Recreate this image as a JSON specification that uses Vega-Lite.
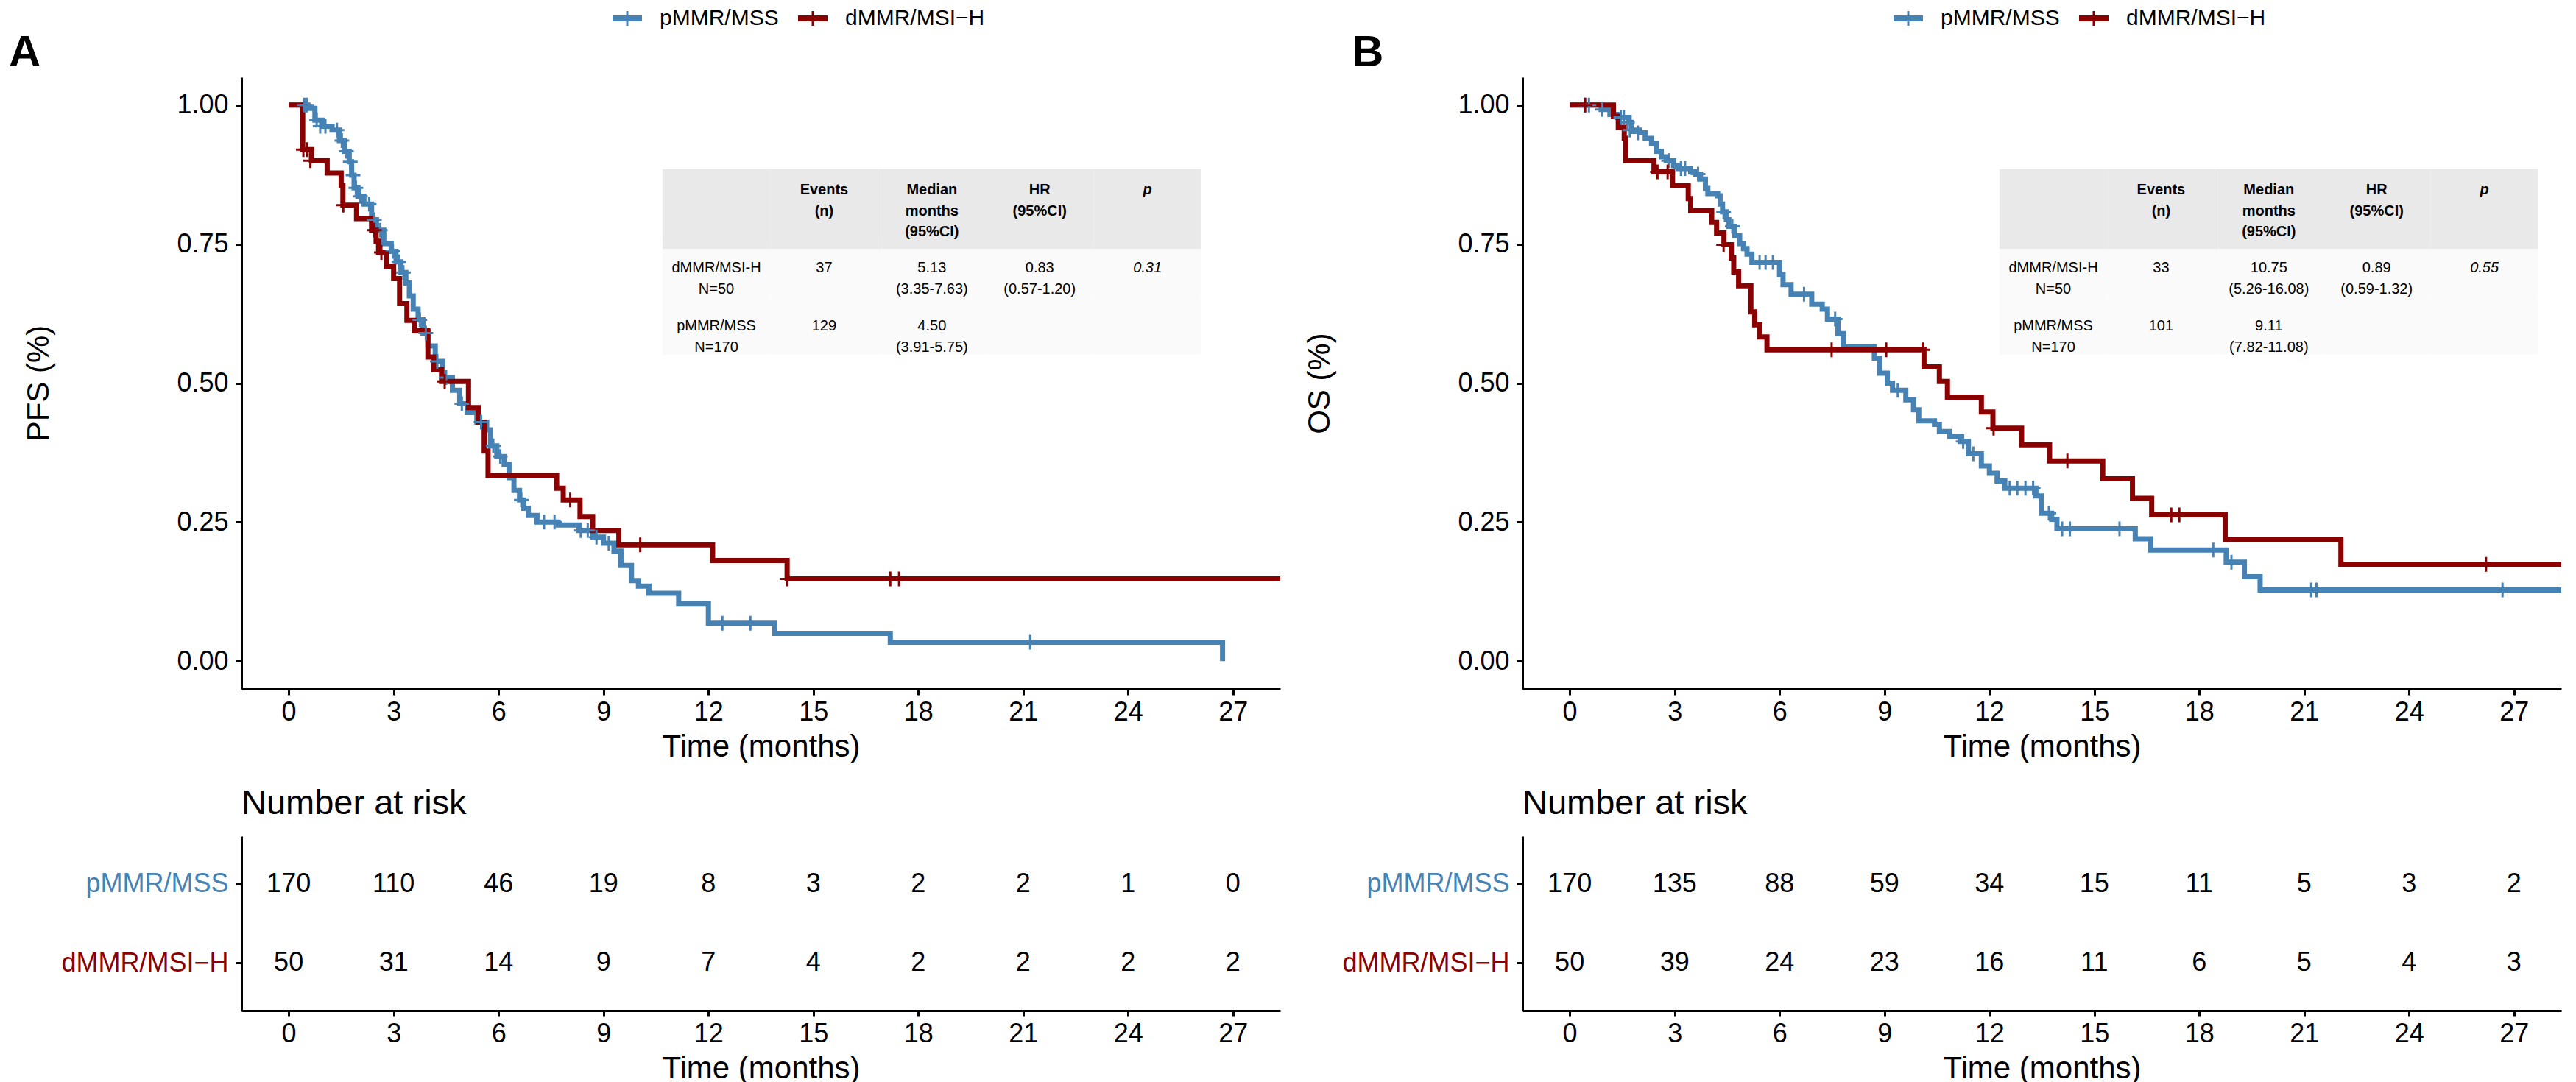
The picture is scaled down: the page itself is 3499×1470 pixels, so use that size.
{
  "$schema": "https://vega.github.io/schema/vega-lite/v6.json",
  "background": "white",
  "padding": {"left": 12, "top": 5, "right": 5, "bottom": 0},
  "config": {
    "font": "Liberation Sans",
    "view": {"stroke": null},
    "axis": {"grid": false, "domainColor": "black", "domainWidth": 3, "tickColor": "black", "tickWidth": 3, "tickSize": 8, "labelColor": "black", "labelFontSize": 36, "titleFontSize": 42, "titleFontWeight": "normal", "titleColor": "black", "labelFont": "Liberation Sans", "titleFont": "Liberation Sans", "labelOverlap": false, "labelFlush": false, "labelLimit": 1000},
    "legend": {"labelLimit": 1000},
    "title": {"font": "Liberation Sans", "color": "black"}
  },
  "datasets": {
    "km": [
      {"panel":"PFS","group":"pMMR/MSS","month":0,"surv":1},{"panel":"PFS","group":"pMMR/MSS","month":0.55,"surv":0.994},{"panel":"PFS","group":"pMMR/MSS","month":0.75,"surv":0.973},{"panel":"PFS","group":"pMMR/MSS","month":0.96,"surv":0.962},{"panel":"PFS","group":"pMMR/MSS","month":1.24,"surv":0.955},{"panel":"PFS","group":"pMMR/MSS","month":1.45,"surv":0.936},{"panel":"PFS","group":"pMMR/MSS","month":1.59,"surv":0.917},{"panel":"PFS","group":"pMMR/MSS","month":1.73,"surv":0.898},{"panel":"PFS","group":"pMMR/MSS","month":1.8,"surv":0.874},{"panel":"PFS","group":"pMMR/MSS","month":1.87,"surv":0.851},{"panel":"PFS","group":"pMMR/MSS","month":1.98,"surv":0.836},{"panel":"PFS","group":"pMMR/MSS","month":2.15,"surv":0.822},{"panel":"PFS","group":"pMMR/MSS","month":2.37,"surv":0.794},{"panel":"PFS","group":"pMMR/MSS","month":2.51,"surv":0.775},{"panel":"PFS","group":"pMMR/MSS","month":2.72,"surv":0.751},{"panel":"PFS","group":"pMMR/MSS","month":2.93,"surv":0.737},{"panel":"PFS","group":"pMMR/MSS","month":3.07,"surv":0.718},{"panel":"PFS","group":"pMMR/MSS","month":3.21,"surv":0.699},{"panel":"PFS","group":"pMMR/MSS","month":3.35,"surv":0.68},{"panel":"PFS","group":"pMMR/MSS","month":3.45,"surv":0.657},{"panel":"PFS","group":"pMMR/MSS","month":3.56,"surv":0.633},{"panel":"PFS","group":"pMMR/MSS","month":3.7,"surv":0.614},{"panel":"PFS","group":"pMMR/MSS","month":3.84,"surv":0.59},{"panel":"PFS","group":"pMMR/MSS","month":3.98,"surv":0.567},{"panel":"PFS","group":"pMMR/MSS","month":4.19,"surv":0.539},{"panel":"PFS","group":"pMMR/MSS","month":4.4,"surv":0.51},{"panel":"PFS","group":"pMMR/MSS","month":4.68,"surv":0.487},{"panel":"PFS","group":"pMMR/MSS","month":4.89,"surv":0.463},{"panel":"PFS","group":"pMMR/MSS","month":5.1,"surv":0.447},{"panel":"PFS","group":"pMMR/MSS","month":5.38,"surv":0.43},{"panel":"PFS","group":"pMMR/MSS","month":5.66,"surv":0.416},{"panel":"PFS","group":"pMMR/MSS","month":5.77,"surv":0.387},{"panel":"PFS","group":"pMMR/MSS","month":5.95,"surv":0.368},{"panel":"PFS","group":"pMMR/MSS","month":6.16,"surv":0.354},{"panel":"PFS","group":"pMMR/MSS","month":6.3,"surv":0.33},{"panel":"PFS","group":"pMMR/MSS","month":6.44,"surv":0.307},{"panel":"PFS","group":"pMMR/MSS","month":6.6,"surv":0.29},{"panel":"PFS","group":"pMMR/MSS","month":6.72,"surv":0.275},{"panel":"PFS","group":"pMMR/MSS","month":6.85,"surv":0.262},{"panel":"PFS","group":"pMMR/MSS","month":7.1,"surv":0.25},{"panel":"PFS","group":"pMMR/MSS","month":7.7,"surv":0.245},{"panel":"PFS","group":"pMMR/MSS","month":8.3,"surv":0.235},{"panel":"PFS","group":"pMMR/MSS","month":8.7,"surv":0.223},{"panel":"PFS","group":"pMMR/MSS","month":9.0,"surv":0.212},{"panel":"PFS","group":"pMMR/MSS","month":9.3,"surv":0.198},{"panel":"PFS","group":"pMMR/MSS","month":9.5,"surv":0.172},{"panel":"PFS","group":"pMMR/MSS","month":9.8,"surv":0.145},{"panel":"PFS","group":"pMMR/MSS","month":10.0,"surv":0.135},{"panel":"PFS","group":"pMMR/MSS","month":10.3,"surv":0.122},{"panel":"PFS","group":"pMMR/MSS","month":11.15,"surv":0.104},{"panel":"PFS","group":"pMMR/MSS","month":12.0,"surv":0.068},{"panel":"PFS","group":"pMMR/MSS","month":13.9,"surv":0.05},{"panel":"PFS","group":"pMMR/MSS","month":17.2,"surv":0.034},{"panel":"PFS","group":"pMMR/MSS","month":26.7,"surv":0},
      {"panel":"PFS","group":"dMMR/MSI−H","month":0,"surv":1},{"panel":"PFS","group":"dMMR/MSI−H","month":0.4,"surv":0.92},{"panel":"PFS","group":"dMMR/MSI−H","month":0.65,"surv":0.9},{"panel":"PFS","group":"dMMR/MSI−H","month":1.1,"surv":0.878},{"panel":"PFS","group":"dMMR/MSI−H","month":1.5,"surv":0.855},{"panel":"PFS","group":"dMMR/MSI−H","month":1.55,"surv":0.82},{"panel":"PFS","group":"dMMR/MSI−H","month":1.94,"surv":0.796},{"panel":"PFS","group":"dMMR/MSI−H","month":2.37,"surv":0.775},{"panel":"PFS","group":"dMMR/MSI−H","month":2.5,"surv":0.755},{"panel":"PFS","group":"dMMR/MSI−H","month":2.57,"surv":0.735},{"panel":"PFS","group":"dMMR/MSI−H","month":2.79,"surv":0.71},{"panel":"PFS","group":"dMMR/MSI−H","month":3.0,"surv":0.688},{"panel":"PFS","group":"dMMR/MSI−H","month":3.17,"surv":0.643},{"panel":"PFS","group":"dMMR/MSI−H","month":3.38,"surv":0.613},{"panel":"PFS","group":"dMMR/MSI−H","month":3.59,"surv":0.594},{"panel":"PFS","group":"dMMR/MSI−H","month":3.98,"surv":0.547},{"panel":"PFS","group":"dMMR/MSI−H","month":4.15,"surv":0.524},{"panel":"PFS","group":"dMMR/MSI−H","month":4.37,"surv":0.503},{"panel":"PFS","group":"dMMR/MSI−H","month":5.14,"surv":0.456},{"panel":"PFS","group":"dMMR/MSI−H","month":5.42,"surv":0.43},{"panel":"PFS","group":"dMMR/MSI−H","month":5.59,"surv":0.378},{"panel":"PFS","group":"dMMR/MSI−H","month":5.7,"surv":0.334},{"panel":"PFS","group":"dMMR/MSI−H","month":7.66,"surv":0.311},{"panel":"PFS","group":"dMMR/MSI−H","month":7.85,"surv":0.29},{"panel":"PFS","group":"dMMR/MSI−H","month":8.33,"surv":0.26},{"panel":"PFS","group":"dMMR/MSI−H","month":8.69,"surv":0.235},{"panel":"PFS","group":"dMMR/MSI−H","month":9.44,"surv":0.209},{"panel":"PFS","group":"dMMR/MSI−H","month":12.12,"surv":0.181},{"panel":"PFS","group":"dMMR/MSI−H","month":14.25,"surv":0.148},{"panel":"PFS","group":"dMMR/MSI−H","month":28.4,"surv":0.148},
      {"panel":"OS","group":"pMMR/MSS","month":0,"surv":1},{"panel":"OS","group":"pMMR/MSS","month":0.9,"surv":0.992},{"panel":"OS","group":"pMMR/MSS","month":1.15,"surv":0.983},{"panel":"OS","group":"pMMR/MSS","month":1.35,"surv":0.978},{"panel":"OS","group":"pMMR/MSS","month":1.7,"surv":0.969},{"panel":"OS","group":"pMMR/MSS","month":1.77,"surv":0.955},{"panel":"OS","group":"pMMR/MSS","month":1.99,"surv":0.95},{"panel":"OS","group":"pMMR/MSS","month":2.16,"surv":0.94},{"panel":"OS","group":"pMMR/MSS","month":2.34,"surv":0.931},{"panel":"OS","group":"pMMR/MSS","month":2.48,"surv":0.917},{"panel":"OS","group":"pMMR/MSS","month":2.62,"surv":0.907},{"panel":"OS","group":"pMMR/MSS","month":2.76,"surv":0.9},{"panel":"OS","group":"pMMR/MSS","month":2.97,"surv":0.891},{"panel":"OS","group":"pMMR/MSS","month":3.11,"surv":0.886},{"panel":"OS","group":"pMMR/MSS","month":3.46,"surv":0.88},{"panel":"OS","group":"pMMR/MSS","month":3.6,"surv":0.876},{"panel":"OS","group":"pMMR/MSS","month":3.74,"surv":0.867},{"panel":"OS","group":"pMMR/MSS","month":3.88,"surv":0.85},{"panel":"OS","group":"pMMR/MSS","month":3.95,"surv":0.841},{"panel":"OS","group":"pMMR/MSS","month":4.23,"surv":0.837},{"panel":"OS","group":"pMMR/MSS","month":4.3,"surv":0.822},{"panel":"OS","group":"pMMR/MSS","month":4.37,"surv":0.808},{"panel":"OS","group":"pMMR/MSS","month":4.48,"surv":0.794},{"panel":"OS","group":"pMMR/MSS","month":4.55,"surv":0.782},{"panel":"OS","group":"pMMR/MSS","month":4.72,"surv":0.765},{"panel":"OS","group":"pMMR/MSS","month":4.86,"surv":0.751},{"panel":"OS","group":"pMMR/MSS","month":4.97,"surv":0.742},{"panel":"OS","group":"pMMR/MSS","month":5.07,"surv":0.732},{"panel":"OS","group":"pMMR/MSS","month":5.21,"surv":0.717},{"panel":"OS","group":"pMMR/MSS","month":6.0,"surv":0.695},{"panel":"OS","group":"pMMR/MSS","month":6.1,"surv":0.677},{"panel":"OS","group":"pMMR/MSS","month":6.33,"surv":0.66},{"panel":"OS","group":"pMMR/MSS","month":6.92,"surv":0.642},{"panel":"OS","group":"pMMR/MSS","month":7.22,"surv":0.633},{"panel":"OS","group":"pMMR/MSS","month":7.37,"surv":0.615},{"panel":"OS","group":"pMMR/MSS","month":7.67,"surv":0.589},{"panel":"OS","group":"pMMR/MSS","month":7.82,"surv":0.565},{"panel":"OS","group":"pMMR/MSS","month":8.71,"surv":0.545},{"panel":"OS","group":"pMMR/MSS","month":8.86,"surv":0.518},{"panel":"OS","group":"pMMR/MSS","month":9.08,"surv":0.5},{"panel":"OS","group":"pMMR/MSS","month":9.23,"surv":0.487},{"panel":"OS","group":"pMMR/MSS","month":9.61,"surv":0.47},{"panel":"OS","group":"pMMR/MSS","month":9.83,"surv":0.452},{"panel":"OS","group":"pMMR/MSS","month":9.98,"surv":0.432},{"panel":"OS","group":"pMMR/MSS","month":10.43,"surv":0.426},{"panel":"OS","group":"pMMR/MSS","month":10.57,"surv":0.413},{"panel":"OS","group":"pMMR/MSS","month":10.87,"surv":0.404},{"panel":"OS","group":"pMMR/MSS","month":11.17,"surv":0.395},{"panel":"OS","group":"pMMR/MSS","month":11.4,"surv":0.373},{"panel":"OS","group":"pMMR/MSS","month":11.77,"surv":0.351},{"panel":"OS","group":"pMMR/MSS","month":12.0,"surv":0.338},{"panel":"OS","group":"pMMR/MSS","month":12.22,"surv":0.324},{"panel":"OS","group":"pMMR/MSS","month":12.44,"surv":0.311},{"panel":"OS","group":"pMMR/MSS","month":13.33,"surv":0.297},{"panel":"OS","group":"pMMR/MSS","month":13.48,"surv":0.266},{"panel":"OS","group":"pMMR/MSS","month":13.78,"surv":0.255},{"panel":"OS","group":"pMMR/MSS","month":13.93,"surv":0.238},{"panel":"OS","group":"pMMR/MSS","month":16.17,"surv":0.22},{"panel":"OS","group":"pMMR/MSS","month":16.61,"surv":0.2},{"panel":"OS","group":"pMMR/MSS","month":18.77,"surv":0.178},{"panel":"OS","group":"pMMR/MSS","month":19.29,"surv":0.152},{"panel":"OS","group":"pMMR/MSS","month":19.74,"surv":0.128},{"panel":"OS","group":"pMMR/MSS","month":28.4,"surv":0.128},
      {"panel":"OS","group":"dMMR/MSI−H","month":0,"surv":1},{"panel":"OS","group":"dMMR/MSI−H","month":1.25,"surv":0.98},{"panel":"OS","group":"dMMR/MSI−H","month":1.39,"surv":0.96},{"panel":"OS","group":"dMMR/MSI−H","month":1.56,"surv":0.94},{"panel":"OS","group":"dMMR/MSI−H","month":1.6,"surv":0.9},{"panel":"OS","group":"dMMR/MSI−H","month":2.41,"surv":0.88},{"panel":"OS","group":"dMMR/MSI−H","month":2.94,"surv":0.855},{"panel":"OS","group":"dMMR/MSI−H","month":3.39,"surv":0.832},{"panel":"OS","group":"dMMR/MSI−H","month":3.46,"surv":0.81},{"panel":"OS","group":"dMMR/MSI−H","month":4.06,"surv":0.789},{"panel":"OS","group":"dMMR/MSI−H","month":4.2,"surv":0.77},{"panel":"OS","group":"dMMR/MSI−H","month":4.41,"surv":0.749},{"panel":"OS","group":"dMMR/MSI−H","month":4.62,"surv":0.725},{"panel":"OS","group":"dMMR/MSI−H","month":4.69,"surv":0.7},{"panel":"OS","group":"dMMR/MSI−H","month":4.83,"surv":0.675},{"panel":"OS","group":"dMMR/MSI−H","month":5.18,"surv":0.628},{"panel":"OS","group":"dMMR/MSI−H","month":5.29,"surv":0.605},{"panel":"OS","group":"dMMR/MSI−H","month":5.43,"surv":0.583},{"panel":"OS","group":"dMMR/MSI−H","month":5.64,"surv":0.56},{"panel":"OS","group":"dMMR/MSI−H","month":10.13,"surv":0.529},{"panel":"OS","group":"dMMR/MSI−H","month":10.57,"surv":0.503},{"panel":"OS","group":"dMMR/MSI−H","month":10.8,"surv":0.475},{"panel":"OS","group":"dMMR/MSI−H","month":11.77,"surv":0.448},{"panel":"OS","group":"dMMR/MSI−H","month":12.1,"surv":0.419},{"panel":"OS","group":"dMMR/MSI−H","month":12.92,"surv":0.389},{"panel":"OS","group":"dMMR/MSI−H","month":13.72,"surv":0.36},{"panel":"OS","group":"dMMR/MSI−H","month":15.24,"surv":0.328},{"panel":"OS","group":"dMMR/MSI−H","month":16.09,"surv":0.293},{"panel":"OS","group":"dMMR/MSI−H","month":16.64,"surv":0.263},{"panel":"OS","group":"dMMR/MSI−H","month":18.74,"surv":0.219},{"panel":"OS","group":"dMMR/MSI−H","month":22.05,"surv":0.174},{"panel":"OS","group":"dMMR/MSI−H","month":28.4,"surv":0.174}
    ],
    "censor": [
      {"panel":"PFS","group":"pMMR/MSS","month":0.45,"surv":1},{"panel":"PFS","group":"pMMR/MSS","month":0.52,"surv":1},{"panel":"PFS","group":"pMMR/MSS","month":0.8,"surv":0.973},{"panel":"PFS","group":"pMMR/MSS","month":0.9,"surv":0.962},{"panel":"PFS","group":"pMMR/MSS","month":1.05,"surv":0.962},{"panel":"PFS","group":"pMMR/MSS","month":1.38,"surv":0.955},{"panel":"PFS","group":"pMMR/MSS","month":1.52,"surv":0.936},{"panel":"PFS","group":"pMMR/MSS","month":1.65,"surv":0.917},{"panel":"PFS","group":"pMMR/MSS","month":1.76,"surv":0.898},{"panel":"PFS","group":"pMMR/MSS","month":1.84,"surv":0.874},{"panel":"PFS","group":"pMMR/MSS","month":1.92,"surv":0.851},{"panel":"PFS","group":"pMMR/MSS","month":2.05,"surv":0.836},{"panel":"PFS","group":"pMMR/MSS","month":2.3,"surv":0.822},{"panel":"PFS","group":"pMMR/MSS","month":2.45,"surv":0.794},{"panel":"PFS","group":"pMMR/MSS","month":2.62,"surv":0.775},{"panel":"PFS","group":"pMMR/MSS","month":2.98,"surv":0.737},{"panel":"PFS","group":"pMMR/MSS","month":3.15,"surv":0.718},{"panel":"PFS","group":"pMMR/MSS","month":3.28,"surv":0.699},{"panel":"PFS","group":"pMMR/MSS","month":3.75,"surv":0.614},{"panel":"PFS","group":"pMMR/MSS","month":3.92,"surv":0.59},{"panel":"PFS","group":"pMMR/MSS","month":4.25,"surv":0.539},{"panel":"PFS","group":"pMMR/MSS","month":4.5,"surv":0.51},{"panel":"PFS","group":"pMMR/MSS","month":4.95,"surv":0.463},{"panel":"PFS","group":"pMMR/MSS","month":5.5,"surv":0.43},{"panel":"PFS","group":"pMMR/MSS","month":5.85,"surv":0.387},{"panel":"PFS","group":"pMMR/MSS","month":6.05,"surv":0.368},{"panel":"PFS","group":"pMMR/MSS","month":6.65,"surv":0.29},{"panel":"PFS","group":"pMMR/MSS","month":7.3,"surv":0.25},{"panel":"PFS","group":"pMMR/MSS","month":7.6,"surv":0.25},{"panel":"PFS","group":"pMMR/MSS","month":8.35,"surv":0.235},{"panel":"PFS","group":"pMMR/MSS","month":8.55,"surv":0.235},{"panel":"PFS","group":"pMMR/MSS","month":8.8,"surv":0.223},{"panel":"PFS","group":"pMMR/MSS","month":9.15,"surv":0.212},{"panel":"PFS","group":"pMMR/MSS","month":12.4,"surv":0.068},{"panel":"PFS","group":"pMMR/MSS","month":13.2,"surv":0.068},{"panel":"PFS","group":"pMMR/MSS","month":21.2,"surv":0.034},
      {"panel":"PFS","group":"dMMR/MSI−H","month":0.42,"surv":0.92},{"panel":"PFS","group":"dMMR/MSI−H","month":0.52,"surv":0.92},{"panel":"PFS","group":"dMMR/MSI−H","month":0.62,"surv":0.9},{"panel":"PFS","group":"dMMR/MSI−H","month":1.56,"surv":0.82},{"panel":"PFS","group":"dMMR/MSI−H","month":2.45,"surv":0.775},{"panel":"PFS","group":"dMMR/MSI−H","month":2.65,"surv":0.735},{"panel":"PFS","group":"dMMR/MSI−H","month":4.46,"surv":0.503},{"panel":"PFS","group":"dMMR/MSI−H","month":8.05,"surv":0.29},{"panel":"PFS","group":"dMMR/MSI−H","month":10.05,"surv":0.209},{"panel":"PFS","group":"dMMR/MSI−H","month":14.25,"surv":0.148},{"panel":"PFS","group":"dMMR/MSI−H","month":17.2,"surv":0.148},{"panel":"PFS","group":"dMMR/MSI−H","month":17.45,"surv":0.148},
      {"panel":"OS","group":"pMMR/MSS","month":0.44,"surv":1},{"panel":"OS","group":"pMMR/MSS","month":0.55,"surv":1},{"panel":"OS","group":"pMMR/MSS","month":0.93,"surv":0.992},{"panel":"OS","group":"pMMR/MSS","month":1.46,"surv":0.978},{"panel":"OS","group":"pMMR/MSS","month":1.55,"surv":0.978},{"panel":"OS","group":"pMMR/MSS","month":1.65,"surv":0.969},{"panel":"OS","group":"pMMR/MSS","month":1.72,"surv":0.955},{"panel":"OS","group":"pMMR/MSS","month":1.95,"surv":0.95},{"panel":"OS","group":"pMMR/MSS","month":2.83,"surv":0.9},{"panel":"OS","group":"pMMR/MSS","month":3.18,"surv":0.886},{"panel":"OS","group":"pMMR/MSS","month":3.3,"surv":0.886},{"panel":"OS","group":"pMMR/MSS","month":3.67,"surv":0.876},{"panel":"OS","group":"pMMR/MSS","month":4.4,"surv":0.808},{"panel":"OS","group":"pMMR/MSS","month":4.65,"surv":0.782},{"panel":"OS","group":"pMMR/MSS","month":5.43,"surv":0.717},{"panel":"OS","group":"pMMR/MSS","month":5.6,"surv":0.717},{"panel":"OS","group":"pMMR/MSS","month":5.81,"surv":0.717},{"panel":"OS","group":"pMMR/MSS","month":6.7,"surv":0.66},{"panel":"OS","group":"pMMR/MSS","month":7.59,"surv":0.615},{"panel":"OS","group":"pMMR/MSS","month":9.38,"surv":0.487},{"panel":"OS","group":"pMMR/MSS","month":11.25,"surv":0.395},{"panel":"OS","group":"pMMR/MSS","month":11.54,"surv":0.373},{"panel":"OS","group":"pMMR/MSS","month":12.58,"surv":0.311},{"panel":"OS","group":"pMMR/MSS","month":12.8,"surv":0.311},{"panel":"OS","group":"pMMR/MSS","month":13.03,"surv":0.311},{"panel":"OS","group":"pMMR/MSS","month":13.25,"surv":0.311},{"panel":"OS","group":"pMMR/MSS","month":13.7,"surv":0.266},{"panel":"OS","group":"pMMR/MSS","month":14.08,"surv":0.238},{"panel":"OS","group":"pMMR/MSS","month":14.3,"surv":0.238},{"panel":"OS","group":"pMMR/MSS","month":15.72,"surv":0.238},{"panel":"OS","group":"pMMR/MSS","month":18.4,"surv":0.2},{"panel":"OS","group":"pMMR/MSS","month":18.92,"surv":0.178},{"panel":"OS","group":"pMMR/MSS","month":21.2,"surv":0.128},{"panel":"OS","group":"pMMR/MSS","month":21.35,"surv":0.128},{"panel":"OS","group":"pMMR/MSS","month":26.67,"surv":0.128},
      {"panel":"OS","group":"dMMR/MSI−H","month":0.44,"surv":1},{"panel":"OS","group":"dMMR/MSI−H","month":2.51,"surv":0.88},{"panel":"OS","group":"dMMR/MSI−H","month":2.8,"surv":0.88},{"panel":"OS","group":"dMMR/MSI−H","month":4.4,"surv":0.749},{"panel":"OS","group":"dMMR/MSI−H","month":7.49,"surv":0.56},{"panel":"OS","group":"dMMR/MSI−H","month":9.05,"surv":0.56},{"panel":"OS","group":"dMMR/MSI−H","month":10.09,"surv":0.56},{"panel":"OS","group":"dMMR/MSI−H","month":12.12,"surv":0.419},{"panel":"OS","group":"dMMR/MSI−H","month":14.23,"surv":0.36},{"panel":"OS","group":"dMMR/MSI−H","month":17.2,"surv":0.263},{"panel":"OS","group":"dMMR/MSI−H","month":17.43,"surv":0.263},{"panel":"OS","group":"dMMR/MSI−H","month":26.2,"surv":0.174}
    ],
    "risk": [
      {"panel":"PFS","group":"pMMR/MSS","month":0,"n":170},{"panel":"PFS","group":"pMMR/MSS","month":3,"n":110},{"panel":"PFS","group":"pMMR/MSS","month":6,"n":46},{"panel":"PFS","group":"pMMR/MSS","month":9,"n":19},{"panel":"PFS","group":"pMMR/MSS","month":12,"n":8},{"panel":"PFS","group":"pMMR/MSS","month":15,"n":3},{"panel":"PFS","group":"pMMR/MSS","month":18,"n":2},{"panel":"PFS","group":"pMMR/MSS","month":21,"n":2},{"panel":"PFS","group":"pMMR/MSS","month":24,"n":1},{"panel":"PFS","group":"pMMR/MSS","month":27,"n":0},
      {"panel":"PFS","group":"dMMR/MSI−H","month":0,"n":50},{"panel":"PFS","group":"dMMR/MSI−H","month":3,"n":31},{"panel":"PFS","group":"dMMR/MSI−H","month":6,"n":14},{"panel":"PFS","group":"dMMR/MSI−H","month":9,"n":9},{"panel":"PFS","group":"dMMR/MSI−H","month":12,"n":7},{"panel":"PFS","group":"dMMR/MSI−H","month":15,"n":4},{"panel":"PFS","group":"dMMR/MSI−H","month":18,"n":2},{"panel":"PFS","group":"dMMR/MSI−H","month":21,"n":2},{"panel":"PFS","group":"dMMR/MSI−H","month":24,"n":2},{"panel":"PFS","group":"dMMR/MSI−H","month":27,"n":2},
      {"panel":"OS","group":"pMMR/MSS","month":0,"n":170},{"panel":"OS","group":"pMMR/MSS","month":3,"n":135},{"panel":"OS","group":"pMMR/MSS","month":6,"n":88},{"panel":"OS","group":"pMMR/MSS","month":9,"n":59},{"panel":"OS","group":"pMMR/MSS","month":12,"n":34},{"panel":"OS","group":"pMMR/MSS","month":15,"n":15},{"panel":"OS","group":"pMMR/MSS","month":18,"n":11},{"panel":"OS","group":"pMMR/MSS","month":21,"n":5},{"panel":"OS","group":"pMMR/MSS","month":24,"n":3},{"panel":"OS","group":"pMMR/MSS","month":27,"n":2},
      {"panel":"OS","group":"dMMR/MSI−H","month":0,"n":50},{"panel":"OS","group":"dMMR/MSI−H","month":3,"n":39},{"panel":"OS","group":"dMMR/MSI−H","month":6,"n":24},{"panel":"OS","group":"dMMR/MSI−H","month":9,"n":23},{"panel":"OS","group":"dMMR/MSI−H","month":12,"n":16},{"panel":"OS","group":"dMMR/MSI−H","month":15,"n":11},{"panel":"OS","group":"dMMR/MSI−H","month":18,"n":6},{"panel":"OS","group":"dMMR/MSI−H","month":21,"n":5},{"panel":"OS","group":"dMMR/MSI−H","month":24,"n":4},{"panel":"OS","group":"dMMR/MSI−H","month":27,"n":3}
    ],
    "tab": [
      {"panel":"PFS","section":"header","row":0,"col":0,"text":""},{"panel":"PFS","section":"header","row":0,"col":1,"text":"Events\n(n)"},{"panel":"PFS","section":"header","row":0,"col":2,"text":"Median\nmonths\n(95%CI)"},{"panel":"PFS","section":"header","row":0,"col":3,"text":"HR\n(95%CI)"},{"panel":"PFS","section":"header","row":0,"col":4,"text":"p"},
      {"panel":"PFS","section":"body","row":1,"col":0,"text":"dMMR/MSI-H\nN=50"},{"panel":"PFS","section":"body","row":1,"col":1,"text":"37"},{"panel":"PFS","section":"body","row":1,"col":2,"text":"5.13\n(3.35-7.63)"},{"panel":"PFS","section":"body","row":1,"col":3,"text":"0.83\n(0.57-1.20)"},{"panel":"PFS","section":"body","row":1,"col":4,"text":"0.31"},
      {"panel":"PFS","section":"body","row":2,"col":0,"text":"pMMR/MSS\nN=170"},{"panel":"PFS","section":"body","row":2,"col":1,"text":"129"},{"panel":"PFS","section":"body","row":2,"col":2,"text":"4.50\n(3.91-5.75)"},{"panel":"PFS","section":"body","row":2,"col":3,"text":""},{"panel":"PFS","section":"body","row":2,"col":4,"text":""},
      {"panel":"OS","section":"header","row":0,"col":0,"text":""},{"panel":"OS","section":"header","row":0,"col":1,"text":"Events\n(n)"},{"panel":"OS","section":"header","row":0,"col":2,"text":"Median\nmonths\n(95%CI)"},{"panel":"OS","section":"header","row":0,"col":3,"text":"HR\n(95%CI)"},{"panel":"OS","section":"header","row":0,"col":4,"text":"p"},
      {"panel":"OS","section":"body","row":1,"col":0,"text":"dMMR/MSI-H\nN=50"},{"panel":"OS","section":"body","row":1,"col":1,"text":"33"},{"panel":"OS","section":"body","row":1,"col":2,"text":"10.75\n(5.26-16.08)"},{"panel":"OS","section":"body","row":1,"col":3,"text":"0.89\n(0.59-1.32)"},{"panel":"OS","section":"body","row":1,"col":4,"text":"0.55"},
      {"panel":"OS","section":"body","row":2,"col":0,"text":"pMMR/MSS\nN=170"},{"panel":"OS","section":"body","row":2,"col":1,"text":"101"},{"panel":"OS","section":"body","row":2,"col":2,"text":"9.11\n(7.82-11.08)"},{"panel":"OS","section":"body","row":2,"col":3,"text":""},{"panel":"OS","section":"body","row":2,"col":4,"text":""}
    ]
  },
  "resolve": {"scale": {"color": "independent"}, "legend": {"color": "independent"}},
  "spacing": 32,
  "hconcat": [
    {
      "resolve": {"scale": {"color": "independent"}, "legend": {"color": "independent"}},
      "spacing": 33,
      "vconcat": [
        {
          "width": 1411, "height": 831,
          "title": {"text": "A", "anchor": "start", "frame": "group", "fontSize": 60, "fontWeight": "bold", "dx": -316, "offset": -145, "baseline": "alphabetic"},
          "resolve": {"scale": {"x": "independent", "y": "independent"}},
          "layer": [
            {
              "layer": [
                {
                  "data": {"name": "km"},
                  "transform": [{"filter": "datum.panel === 'PFS'"}],
                  "mark": {"type": "line", "interpolate": "step-after", "strokeWidth": 7, "clip": true},
                  "encoding": {
                    "x": {"field": "month", "type": "quantitative", "scale": {"domain": [-1.35, 28.35], "nice": false, "zero": false}, "axis": {"values": [0,3,6,9,12,15,18,21,24,27], "title": "Time (months)", "labelPadding": 6, "titlePadding": 9}},
                    "y": {"field": "surv", "type": "quantitative", "scale": {"domain": [-0.05, 1.05], "nice": false, "zero": false}, "axis": {"values": [0,0.25,0.5,0.75,1], "format": ".2f", "title": "PFS (%)", "labelPadding": 10, "titlePadding": 165}},
                    "color": {"field": "group", "type": "nominal", "scale": {"domain": ["pMMR/MSS", "dMMR/MSI−H"], "range": ["#4682B4", "#8B0000"]},
                      "legend": {"orient": "none", "legendX": 504, "legendY": -100, "direction": "horizontal", "title": null, "labelFontSize": 30, "labelFont": "Liberation Sans", "labelColor": "black", "labelLimit": 1000, "symbolType": "M-1,-0.2H1V0.2H-1Z M-0.075,-0.5H0.075V0.5H-0.075Z", "symbolSize": 1600, "symbolStrokeWidth": 0, "labelOffset": 24, "columnPadding": 26,
                        "encode": {"symbols": {"update": {"fill": {"signal": "datum.value === 'pMMR/MSS' ? '#4682B4' : '#8B0000'"}, "strokeWidth": {"value": 0}, "opacity": {"value": 1}}}}}}
                  }
                },
                {
                  "data": {"name": "censor"},
                  "transform": [{"filter": "datum.panel === 'PFS'"}],
                  "mark": {"type": "point", "shape": "M-1,0H1M0,-1V1", "filled": false, "size": 400, "strokeWidth": 3, "opacity": 1, "clip": true},
                  "encoding": {
                    "x": {"field": "month", "type": "quantitative"},
                    "y": {"field": "surv", "type": "quantitative"},
                    "color": {"field": "group", "type": "nominal", "legend": null}
                  }
                }
              ]
            },
            {
              "data": {"name": "tab"},
              "transform": [{"filter": "datum.panel === 'PFS'"}],
              "encoding": {
                "x": {"field": "col", "type": "quantitative", "scale": {"domain": [-4.406, 5.232], "nice": false, "zero": false}, "axis": null},
                "y": {"field": "row", "type": "quantitative", "scale": {"domain": [-2.266, 8.253], "nice": false, "zero": false, "reverse": true}, "axis": null}
              },
              "layer": [
                {"transform": [{"filter": "datum.section === 'body'"}], "mark": {"type": "rect", "width": 146.4, "height": 79, "color": "#FAFAFA"}},
                {"transform": [{"filter": "datum.section === 'header'"}], "mark": {"type": "rect", "width": 146.4, "height": 108, "color": "#E9E9E9"}},
                {"transform": [{"filter": "datum.section === 'header' && datum.col < 4"}], "mark": {"type": "text", "fontSize": 20, "fontWeight": "bold", "baseline": "top", "align": "center", "lineBreak": "\n", "lineHeight": 28.5, "dy": -36, "color": "black", "font": "Liberation Sans"}, "encoding": {"text": {"field": "text"}}},
                {"transform": [{"filter": "datum.section === 'header' && datum.col == 4"}], "mark": {"type": "text", "fontSize": 20, "fontWeight": "bold", "fontStyle": "italic", "baseline": "top", "align": "center", "dy": -36, "color": "black", "font": "Liberation Sans"}, "encoding": {"text": {"field": "text"}}},
                {"transform": [{"filter": "datum.section === 'body' && datum.col < 4"}], "mark": {"type": "text", "fontSize": 20, "baseline": "top", "align": "center", "lineBreak": "\n", "lineHeight": 28.5, "dy": -9, "color": "black", "font": "Liberation Sans"}, "encoding": {"text": {"field": "text"}}},
                {"transform": [{"filter": "datum.section === 'body' && datum.col == 4"}], "mark": {"type": "text", "fontSize": 20, "fontStyle": "italic", "baseline": "top", "align": "center", "dy": -9, "color": "black", "font": "Liberation Sans"}, "encoding": {"text": {"field": "text"}}}
              ]
            }
          ]
        },
        {
          "width": 1411, "height": 237,
          "title": {"text": "Number at risk", "anchor": "start", "frame": "group", "fontSize": 47, "fontWeight": "normal", "baseline": "alphabetic", "offset": -17},
          "data": {"name": "risk"},
          "transform": [{"filter": "datum.panel === 'PFS'"}],
          "mark": {"type": "text", "fontSize": 36, "color": "black", "baseline": "middle", "align": "center", "font": "Liberation Sans"},
          "encoding": {
            "x": {"field": "month", "type": "quantitative", "scale": {"domain": [-1.35, 28.35], "nice": false, "zero": false}, "axis": {"values": [0,3,6,9,12,15,18,21,24,27], "title": "Time (months)", "labelPadding": 6, "titlePadding": 9}},
            "y": {"field": "group", "type": "nominal", "sort": ["pMMR/MSS", "dMMR/MSI−H"], "scale": {"type": "point", "padding": 0.6}, "axis": {"title": null, "labelPadding": 10, "labelLimit": 1000, "labelColor": {"condition": {"test": "datum.value === 'pMMR/MSS'", "value": "#4682B4"}, "value": "#8B0000"}}},
            "text": {"field": "n", "type": "quantitative"}
          }
        }
      ]
    },
    {
      "resolve": {"scale": {"color": "independent"}, "legend": {"color": "independent"}},
      "spacing": 33,
      "vconcat": [
        {
          "width": 1411, "height": 831,
          "title": {"text": "B", "anchor": "start", "frame": "group", "fontSize": 60, "fontWeight": "bold", "dx": -232, "offset": -145, "baseline": "alphabetic"},
          "resolve": {"scale": {"x": "independent", "y": "independent"}},
          "layer": [
            {
              "layer": [
                {
                  "data": {"name": "km"},
                  "transform": [{"filter": "datum.panel === 'OS'"}],
                  "mark": {"type": "line", "interpolate": "step-after", "strokeWidth": 7, "clip": true},
                  "encoding": {
                    "x": {"field": "month", "type": "quantitative", "scale": {"domain": [-1.35, 28.35], "nice": false, "zero": false}, "axis": {"values": [0,3,6,9,12,15,18,21,24,27], "title": "Time (months)", "labelPadding": 6, "titlePadding": 9}},
                    "y": {"field": "surv", "type": "quantitative", "scale": {"domain": [-0.05, 1.05], "nice": false, "zero": false}, "axis": {"values": [0,0.25,0.5,0.75,1], "format": ".2f", "title": "OS (%)", "labelPadding": 10, "titlePadding": 165}},
                    "color": {"field": "group", "type": "nominal", "scale": {"domain": ["pMMR/MSS", "dMMR/MSI−H"], "range": ["#4682B4", "#8B0000"]},
                      "legend": {"orient": "none", "legendX": 504, "legendY": -100, "direction": "horizontal", "title": null, "labelFontSize": 30, "labelFont": "Liberation Sans", "labelColor": "black", "labelLimit": 1000, "symbolType": "M-1,-0.2H1V0.2H-1Z M-0.075,-0.5H0.075V0.5H-0.075Z", "symbolSize": 1600, "symbolStrokeWidth": 0, "labelOffset": 24, "columnPadding": 26,
                        "encode": {"symbols": {"update": {"fill": {"signal": "datum.value === 'pMMR/MSS' ? '#4682B4' : '#8B0000'"}, "strokeWidth": {"value": 0}, "opacity": {"value": 1}}}}}}
                  }
                },
                {
                  "data": {"name": "censor"},
                  "transform": [{"filter": "datum.panel === 'OS'"}],
                  "mark": {"type": "point", "shape": "M-1,0H1M0,-1V1", "filled": false, "size": 400, "strokeWidth": 3, "opacity": 1, "clip": true},
                  "encoding": {
                    "x": {"field": "month", "type": "quantitative"},
                    "y": {"field": "surv", "type": "quantitative"},
                    "color": {"field": "group", "type": "nominal", "legend": null}
                  }
                }
              ]
            },
            {
              "data": {"name": "tab"},
              "transform": [{"filter": "datum.panel === 'OS'"}],
              "encoding": {
                "x": {"field": "col", "type": "quantitative", "scale": {"domain": [-4.925, 4.713], "nice": false, "zero": false}, "axis": null},
                "y": {"field": "row", "type": "quantitative", "scale": {"domain": [-2.266, 8.253], "nice": false, "zero": false, "reverse": true}, "axis": null}
              },
              "layer": [
                {"transform": [{"filter": "datum.section === 'body'"}], "mark": {"type": "rect", "width": 146.4, "height": 79, "color": "#FAFAFA"}},
                {"transform": [{"filter": "datum.section === 'header'"}], "mark": {"type": "rect", "width": 146.4, "height": 108, "color": "#E9E9E9"}},
                {"transform": [{"filter": "datum.section === 'header' && datum.col < 4"}], "mark": {"type": "text", "fontSize": 20, "fontWeight": "bold", "baseline": "top", "align": "center", "lineBreak": "\n", "lineHeight": 28.5, "dy": -36, "color": "black", "font": "Liberation Sans"}, "encoding": {"text": {"field": "text"}}},
                {"transform": [{"filter": "datum.section === 'header' && datum.col == 4"}], "mark": {"type": "text", "fontSize": 20, "fontWeight": "bold", "fontStyle": "italic", "baseline": "top", "align": "center", "dy": -36, "color": "black", "font": "Liberation Sans"}, "encoding": {"text": {"field": "text"}}},
                {"transform": [{"filter": "datum.section === 'body' && datum.col < 4"}], "mark": {"type": "text", "fontSize": 20, "baseline": "top", "align": "center", "lineBreak": "\n", "lineHeight": 28.5, "dy": -9, "color": "black", "font": "Liberation Sans"}, "encoding": {"text": {"field": "text"}}},
                {"transform": [{"filter": "datum.section === 'body' && datum.col == 4"}], "mark": {"type": "text", "fontSize": 20, "fontStyle": "italic", "baseline": "top", "align": "center", "dy": -9, "color": "black", "font": "Liberation Sans"}, "encoding": {"text": {"field": "text"}}}
              ]
            }
          ]
        },
        {
          "width": 1411, "height": 237,
          "title": {"text": "Number at risk", "anchor": "start", "frame": "group", "fontSize": 47, "fontWeight": "normal", "baseline": "alphabetic", "offset": -17},
          "data": {"name": "risk"},
          "transform": [{"filter": "datum.panel === 'OS'"}],
          "mark": {"type": "text", "fontSize": 36, "color": "black", "baseline": "middle", "align": "center", "font": "Liberation Sans"},
          "encoding": {
            "x": {"field": "month", "type": "quantitative", "scale": {"domain": [-1.35, 28.35], "nice": false, "zero": false}, "axis": {"values": [0,3,6,9,12,15,18,21,24,27], "title": "Time (months)", "labelPadding": 6, "titlePadding": 9}},
            "y": {"field": "group", "type": "nominal", "sort": ["pMMR/MSS", "dMMR/MSI−H"], "scale": {"type": "point", "padding": 0.6}, "axis": {"title": null, "labelPadding": 10, "labelLimit": 1000, "labelColor": {"condition": {"test": "datum.value === 'pMMR/MSS'", "value": "#4682B4"}, "value": "#8B0000"}}},
            "text": {"field": "n", "type": "quantitative"}
          }
        }
      ]
    }
  ]
}
